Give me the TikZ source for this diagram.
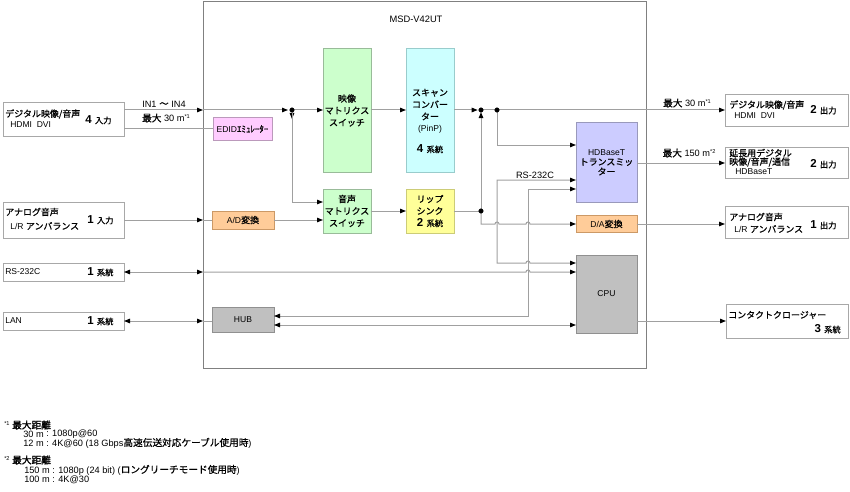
\documentclass[tikz,border=0pt]{standalone}
\usepackage{fontspec}
\setmainfont{Liberation Sans}
\newfontfamily\jp[Scale=1.05,FakeBold=0.7]{Noto Sans CJK JP}
\newfontfamily\jpb[Scale=1.05,FakeBold=1.5]{Noto Sans CJK JP}
\usetikzlibrary{arrows.meta}
\newcommand\J[1]{{\jp #1}}
\newcommand\JS[1]{{\fontsize{5.9}{7}\selectfont\jp #1}}
\newcommand\numb[1]{{\fontsize{8.6}{9}\selectfont\bfseries #1}}
\newcommand\supr[1]{\raisebox{2.6pt}{\fontsize{4.2}{4.5}\selectfont #1}}
\definecolor{lnc}{HTML}{A0A0A0}
\definecolor{mainc}{HTML}{808080}
\definecolor{extc}{HTML}{A8A8A8}
\definecolor{gfl}{HTML}{CCFFCC}\definecolor{gbd}{HTML}{99BB99}
\definecolor{cfl}{HTML}{CCFFFF}\definecolor{cbd}{HTML}{99CCCC}
\definecolor{yfl}{HTML}{FFFF99}\definecolor{ybd}{HTML}{CCCC77}
\definecolor{lfl}{HTML}{CCCCFF}\definecolor{lbd}{HTML}{9999BB}
\definecolor{ofl}{HTML}{FFCC99}\definecolor{obd}{HTML}{CC9966}
\definecolor{pfl}{HTML}{FFCCFF}\definecolor{pbd}{HTML}{BB99BB}
\definecolor{hfl}{HTML}{C0C0C0}\definecolor{hbd}{HTML}{909090}
\begin{document}
\begin{tikzpicture}[x=0.75pt,y=-0.75pt,font=\fontsize{6.4}{7.6}\selectfont,
  ln/.style={draw=lnc,line width=0.75pt},
  ah/.tip={Triangle[length=4.5pt,width=3.4pt,color=black]},
  sz/.style 2 args={minimum width={#1*0.75pt},minimum height={#2*0.75pt},inner sep=0pt,outer sep=0pt},
  mainbox/.style={draw=mainc,line width=0.75pt},
  extb/.style={draw=extc,fill=white,line width=0.75pt},
  inb/.style 2 args={draw=#1,fill=#2,line width=0.75pt,align=center,font=\fontsize{6.4}{9}\selectfont},
  dotn/.style={circle,fill=black,draw=black,line width=0.3pt,inner sep=0pt,minimum size=3.4pt},
  txt/.style={inner sep=0pt,anchor=west},
  lab/.style={inner sep=0pt,font=\fontsize{6.9}{8}\selectfont},
  fn/.style={inner sep=0pt,anchor=west,font=\fontsize{6.9}{8}\selectfont},
  txtc/.style={inner sep=0pt,align=center,font=\fontsize{6.4}{9}\selectfont}]
\useasboundingbox (0,0) rectangle (850,492);

% main box
\node[mainbox,sz={443}{366}] (main) at (424.5,185) {};
\node[inner sep=0pt,font=\fontsize{7}{8}\selectfont] (title) at (416,19) {MSD-V42UT};

% external boxes
\node[extb,sz={121}{33}] (in1) at (63.5,119.5) {};
\node[extb,sz={121}{36}] (in2) at (63.5,220) {};
\node[extb,sz={121}{18}] (rs) at (63.5,272) {};
\node[extb,sz={121}{18}] (lan) at (63.5,321) {};
\node[extb,sz={123}{32}] (out1) at (786.5,111) {};
\node[extb,sz={123}{31}] (out2) at (786.5,162.5) {};
\node[extb,sz={123}{32}] (out3) at (786.5,222.5) {};
\node[extb,sz={122}{34}] (out4) at (787,321) {};

% texts of external boxes
\node[txt] (in1a) at (5,114) {\J{デジタル映像/音声}};
\node[txt] (in1b) at (10,125) {HDMI\ \ DVI};
\node[txt] (in1n) at (85,120) {\numb{4}\hspace{2.5pt}\JS{入力}};
\node[txt] (in2a) at (5,212) {\J{アナログ音声}};
\node[txt] (in2b) at (10,226) {L/R \J{アンバランス}};
\node[txt] (in2n) at (87,220) {\numb{1}\hspace{2.5pt}\JS{入力}};
\node[txt] (rsa) at (5,272) {RS-232C};
\node[txt] (rsn) at (87,272) {\numb{1}\hspace{2.5pt}\JS{系統}};
\node[txt] (lana) at (5,321) {LAN};
\node[txt] (lann) at (87,321) {\numb{1}\hspace{2.5pt}\JS{系統}};
\node[txt] (o1a) at (729,105) {\J{デジタル映像/音声}};
\node[txt] (o1b) at (734,116) {HDMI\ \ DVI};
\node[txt] (o1n) at (810,110) {\numb{2}\hspace{2.5pt}\JS{出力}};
\node[txt] (o2a) at (729,153) {\J{延長用デジタル}};
\node[txt] (o2b) at (729,162) {\J{映像/音声/通信}};
\node[txt] (o2c) at (735,172) {HDBaseT};
\node[txt] (o2n) at (810,164) {\numb{2}\hspace{2.5pt}\JS{出力}};
\node[txt] (o3a) at (729,217) {\J{アナログ音声}};
\node[txt] (o3b) at (734,229) {L/R \J{アンバランス}};
\node[txt] (o3n) at (810,225) {\numb{1}\hspace{2.5pt}\JS{出力}};
\node[txt] (o4a) at (728,315) {\J{コンタクトクロージャー}};
\node[inner sep=0pt,anchor=east] (o4n) at (841,329) {\numb{3}\hspace{2.5pt}\JS{系統}};

% internal boxes
\node[inb={gbd}{gfl},sz={48}{123}] (vmat) at (347,110.5) {\J{映像}\\\J{マトリクス}\\\J{スイッチ}};
\node[inb={gbd}{gfl},sz={48}{44}] (amat) at (347,211) {\J{音声}\\\J{マトリクス}\\\J{スイッチ}};
\node[inb={cbd}{cfl},sz={48}{123}] (scan) at (430,110.5) {};
\node[txtc] (scant) at (430,121) {\J{スキャン}\\\J{コンバー}\\\J{ター}\\(PinP)\\[6.5pt]\numb{4}\hspace{2.5pt}\JS{系統}};
\node[inb={ybd}{yfl},sz={48}{44}] (lip) at (430,211) {\J{リップ}\\\J{シンク}\\\numb{2}\hspace{2.5pt}\JS{系統}};
\node[inb={lbd}{lfl},sz={61}{79},font=\fontsize{6.4}{7.3}\selectfont] (hdb) at (606.5,162.5) {HDBaseT\\\J{トランスミッ}\\\J{ター}};
\node[inb={obd}{ofl},sz={61}{17}] (da) at (606.5,224) {D/A\J{変換}};
\node[inb={obd}{ofl},sz={62}{18}] (ad) at (243,220) {A/D\J{変換}};
\node[inb={pbd}{pfl},sz={59}{22}] (edid) at (242.5,129) {EDID\J{ｴﾐｭﾚｰﾀｰ}};
\node[inb={hbd}{hfl},sz={62}{25}] (hub) at (243,319.5) {HUB};
\node[inb={hbd}{hfl},sz={61}{78}] (cpu) at (606.5,294) {CPU};

% junctions
\coordinate (d1) at (292,110);
\coordinate (d2) at (481,110);
\coordinate (d3) at (497,110);
\coordinate (d4) at (481,211);
\coordinate (yA) at (0,202);
\coordinate (yH) at (0,145);
\coordinate (yR) at (0,180);
\coordinate (yU) at (0,189);
\coordinate (yC) at (0,263);
\coordinate (yB) at (0,316);
\coordinate (yL) at (0,325);
\coordinate (yO) at (0,163);
\coordinate (yE) at (0,129);

% connectors
\draw[ln,-ah] (in1.east |- d1) -- (main.west |- d1);
\draw[ln,-ah] (main.west |- d1) -- ([xshift=-3pt]d1);
\draw[ln,-ah] (d1) -- (vmat.west |- d1);
\draw[ln,-ah] (d1) -- ++(0,9);
\draw[ln,-ah] (d1) |- (amat.west |- yA);
\draw[ln] (in1.east |- yE) -- (edid.west);
\draw[ln,-ah] (vmat.east |- d1) -- (scan.west |- d1);
\draw[ln,-ah] (scan.east |- d1) -- ([xshift=-2.5pt]d2);
\draw[ln] (d2) -- (d3);
\draw[ln,-ah] (d3) -- (out1.west |- d3);
\draw[ln] (lip.east |- d4) -- (d4);
\draw[ln,-ah] (d4) -- ([yshift=-1.6pt]d2);
\draw[ln,-ah] (d4) |- (495,224) arc[start angle=180,end angle=0,radius=1.5pt] -- (526,224) arc[start angle=180,end angle=0,radius=1.5pt] -- (da.west);
\draw[ln,-ah] (d3) |- (hdb.west |- yH);
\draw[ln,ah-ah] (hdb.west |- yR) -- (497,180) -- (497,263) -- (526,263) arc[start angle=180,end angle=0,radius=1.5pt] -- (cpu.west |- yC);
\node[lab] (rslab) at (535,175) {RS-232C};
\draw[ln,ah-ah] (hdb.west |- yU) -- (528,189) -- (528,316) -- (hub.east |- yB);
\draw[ln,ah-ah] (hub.east |- yL) -- (cpu.west |- yL);
\draw[ln,ah-ah] (rs.east) -- (main.west |- rs);
\draw[ln,-ah] (main.west |- rs) -- (526,272) arc[start angle=180,end angle=0,radius=1.5pt] -- (cpu.west |- rs);
\draw[ln,ah-ah] (lan.east) -- (main.west |- lan);
\draw[ln] (main.west |- lan) -- (hub.west |- lan);
\draw[ln,-ah] (in2.east) -- (main.west |- in2);
\draw[ln] (main.west |- in2) -- (ad.west);
\draw[ln,-ah] (ad.east) -- (amat.west |- ad);
\draw[ln,-ah] (amat.east) -- (lip.west);
\draw[ln,-ah] (hdb.east |- yO) -- (out2.west |- yO);
\draw[ln,-ah] (da.east) -- (out3.west |- da);
\draw[ln,-ah] (cpu.east |- out4) -- (out4.west);

% junction dots
\node[dotn] (dd1) at (d1) {};
\node[dotn] (dd2) at (d2) {};
\node[dotn] (dd3) at (d3) {};
\node[dotn] (dd4) at (d4) {};

% line labels
\node[lab] (lin) at (164,104) {IN1 \J{～} IN4};
\node[lab] (lmax1) at (166,118) {\J{最大} 30 m\supr{*1}};
\node[lab] (lmax2) at (687,103) {\J{最大} 30 m\supr{*1}};
\node[lab] (lmax3) at (689,153) {\J{最大} 150 m\supr{*2}};

% footnotes
\node[fn] (f1) at (4,425) {\supr{*1}\hspace{2pt}{\jpb 最大距離}};
\node[fn] (f1a) at (23,434) {30 m};
\node[fn] (f1b) at (46,434) {: 1080p@60};
\node[fn] (f1c) at (23,443) {12 m};
\node[fn] (f1d) at (46,443) {: 4K@60 (18 Gbps\J{高速伝送対応ケーブル使用時})};
\node[fn] (f2) at (4,460) {\supr{*2}\hspace{2pt}{\jpb 最大距離}};
\node[fn] (f2a) at (24,470) {150 m : 1080p (24 bit) (\J{ロングリーチモード使用時})};
\node[fn] (f2b) at (24,480) {100 m : 4K@30};
\end{tikzpicture}
\end{document}
